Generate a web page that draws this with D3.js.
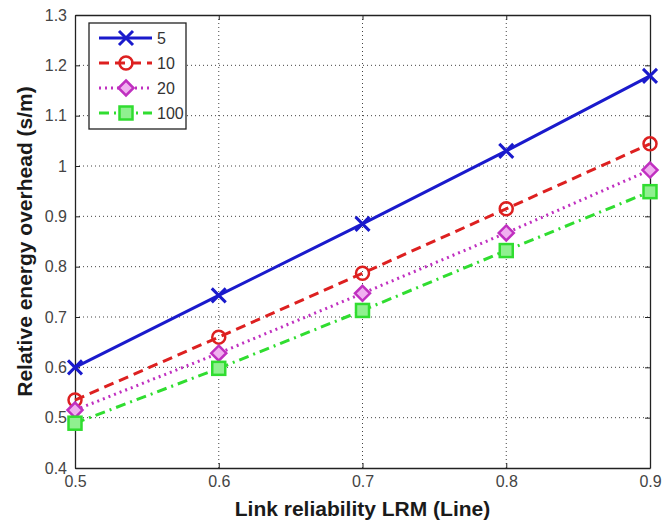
<!DOCTYPE html>
<html>
<head>
<meta charset="utf-8">
<script src="https://cdn.jsdelivr.net/npm/d3@7"></script>
<style>
  body { margin: 0; background: #fff; }
  text { font-family: "Liberation Sans", Arial, sans-serif; }
</style>
</head>
<body>
<script>
// Data
var reliability = [0.5, 0.6, 0.7, 0.8, 0.9];
var seriesNames = ["5", "10", "20", "100"];
var overhead5 = [0.600, 0.743, 0.885, 1.030, 1.179];
var overhead10 = [0.535, 0.660, 0.787, 0.915, 1.044];
var overhead20 = [0.515, 0.628, 0.747, 0.867, 0.992];
var overhead100 = [0.489, 0.598, 0.713, 0.832, 0.949];
var xTicks = [0.5, 0.6, 0.7, 0.8, 0.9];
var yTicks = [0.4, 0.5, 0.6, 0.7, 0.8, 0.9, 1, 1.1, 1.2, 1.3];

var width = 662, height = 527;
var margin = {left: 75, right: 12, top: 15, bottom: 59};

var svg = d3.select("body").append("svg").attr("width", width).attr("height", height);

var x = d3.scaleLinear().domain([0.5, 0.9]).range([margin.left, width - margin.right]);
var y = d3.scaleLinear().domain([0.4, 1.3]).range([height - margin.bottom, margin.top]);

var series = [
    {name: seriesNames[0], values: overhead5, color: "#1a1acc", dash: null, marker: "x"},
    {name: seriesNames[1], values: overhead10, color: "#dd2020", dash: "10,6", marker: "circle"},
    {name: seriesNames[2], values: overhead20, color: "#c030c0", dash: "2,4", marker: "diamond"},
    {name: seriesNames[3], values: overhead100, color: "#30dd30", dash: "10,5,2,5", marker: "square"}
];

// grid
svg.append("g").selectAll("line").data(xTicks.slice(1, -1)).enter().append("line")
    .attr("x1", d => x(d)).attr("x2", d => x(d))
    .attr("y1", y(0.4)).attr("y2", y(1.3))
    .style("stroke", "#444").style("stroke-width", 1).style("stroke-dasharray", "1,3");
svg.append("g").selectAll("line").data(yTicks.slice(1, -1)).enter().append("line")
    .attr("x1", x(0.5)).attr("x2", x(0.9))
    .attr("y1", d => y(d)).attr("y2", d => y(d))
    .style("stroke", "#444").style("stroke-width", 1).style("stroke-dasharray", "1,3");

// axes (ticks inside, box on)
var bottomAxis = d3.axisBottom(x).tickValues(xTicks).tickFormat(d3.format("")).tickSizeInner(-5).tickSizeOuter(0).tickPadding(8);
var leftAxis = d3.axisLeft(y).tickValues(yTicks).tickFormat(d3.format("")).tickSizeInner(-5).tickSizeOuter(0).tickPadding(8);
var topAxis = d3.axisTop(x).tickValues(xTicks).tickFormat("").tickSizeInner(-5).tickSizeOuter(0);
var rightAxis = d3.axisRight(y).tickValues(yTicks).tickFormat("").tickSizeInner(-5).tickSizeOuter(0);

function styleAxis(g) {
    g.selectAll("path").style("stroke", "#222").style("stroke-width", 1.3);
    g.selectAll("line").style("stroke", "#222");
    g.selectAll("text").style("font-size", "16px").style("fill", "#444");
}
svg.append("g").attr("transform", "translate(0," + y(0.4) + ")").call(bottomAxis).call(styleAxis);
svg.append("g").attr("transform", "translate(" + x(0.5) + ",0)").call(leftAxis).call(styleAxis);
svg.append("g").attr("transform", "translate(0," + y(1.3) + ")").call(topAxis).call(styleAxis);
svg.append("g").attr("transform", "translate(" + x(0.9) + ",0)").call(rightAxis).call(styleAxis);

// lines
var line = d3.line().x((d, i) => x(reliability[i])).y(d => y(d));

function drawMarker(g, type, color, cx, cy) {
    if (type === "x") {
        var s = 7;
        g.append("path").attr("d", "M" + (cx - s) + "," + (cy - s) + "L" + (cx + s) + "," + (cy + s) + "M" + (cx - s) + "," + (cy + s) + "L" + (cx + s) + "," + (cy - s))
            .style("stroke", color).style("stroke-width", 3).style("fill", "none");
    } else if (type === "circle") {
        g.append("circle").attr("cx", cx).attr("cy", cy).attr("r", 6.5)
            .style("stroke", color).style("stroke-width", 2.5).style("fill", "none");
    } else if (type === "diamond") {
        var d = 7.5;
        g.append("path").attr("d", "M" + cx + "," + (cy - d) + "L" + (cx + d) + "," + cy + "L" + cx + "," + (cy + d) + "L" + (cx - d) + "," + cy + "Z")
            .style("stroke", color).style("stroke-width", 2.5).style("fill", "#f0b0f0");
    } else {
        var h = 6.5;
        g.append("rect").attr("x", cx - h).attr("y", cy - h).attr("width", 2 * h).attr("height", 2 * h)
            .style("stroke", color).style("stroke-width", 2.5).style("fill", "#90f090");
    }
}

series.forEach(function(s) {
    svg.append("path").datum(s.values).attr("d", line)
        .style("fill", "none").style("stroke", s.color).style("stroke-width", 3)
        .style("stroke-dasharray", s.dash);
    var g = svg.append("g");
    s.values.forEach(function(v, i) { drawMarker(g, s.marker, s.color, x(reliability[i]), y(v)); });
});

// legend
var lg = svg.append("g").attr("transform", "translate(89,23)");
lg.append("rect").attr("width", 97).attr("height", 106)
    .style("fill", "#fff").style("stroke", "#222").style("stroke-width", 1.3);
series.forEach(function(s, i) {
    var yy = 15 + i * 25;
    lg.append("line").attr("x1", 10).attr("x2", 63).attr("y1", yy).attr("y2", yy)
        .style("stroke", s.color).style("stroke-width", 3).style("stroke-dasharray", s.dash);
    drawMarker(lg, s.marker, s.color, 37, yy);
    lg.append("text").attr("x", 68).attr("y", yy + 6).text(s.name)
        .style("font-size", "16px").style("fill", "#333");
});

// axis titles
svg.append("text").attr("x", (x(0.5) + x(0.9)) / 2).attr("y", 516).attr("text-anchor", "middle")
    .style("font-size", "21px").style("font-weight", "bold").style("fill", "#1a1a1a").text("Link reliability LRM (Line)");
svg.append("text").attr("transform", "translate(32," + ((y(0.4) + y(1.3)) / 2) + ") rotate(-90)")
    .attr("text-anchor", "middle").style("font-size", "21px").style("font-weight", "bold").style("fill", "#1a1a1a")
    .text("Relative energy overhead (s/m)");
</script>
</body>
</html>
